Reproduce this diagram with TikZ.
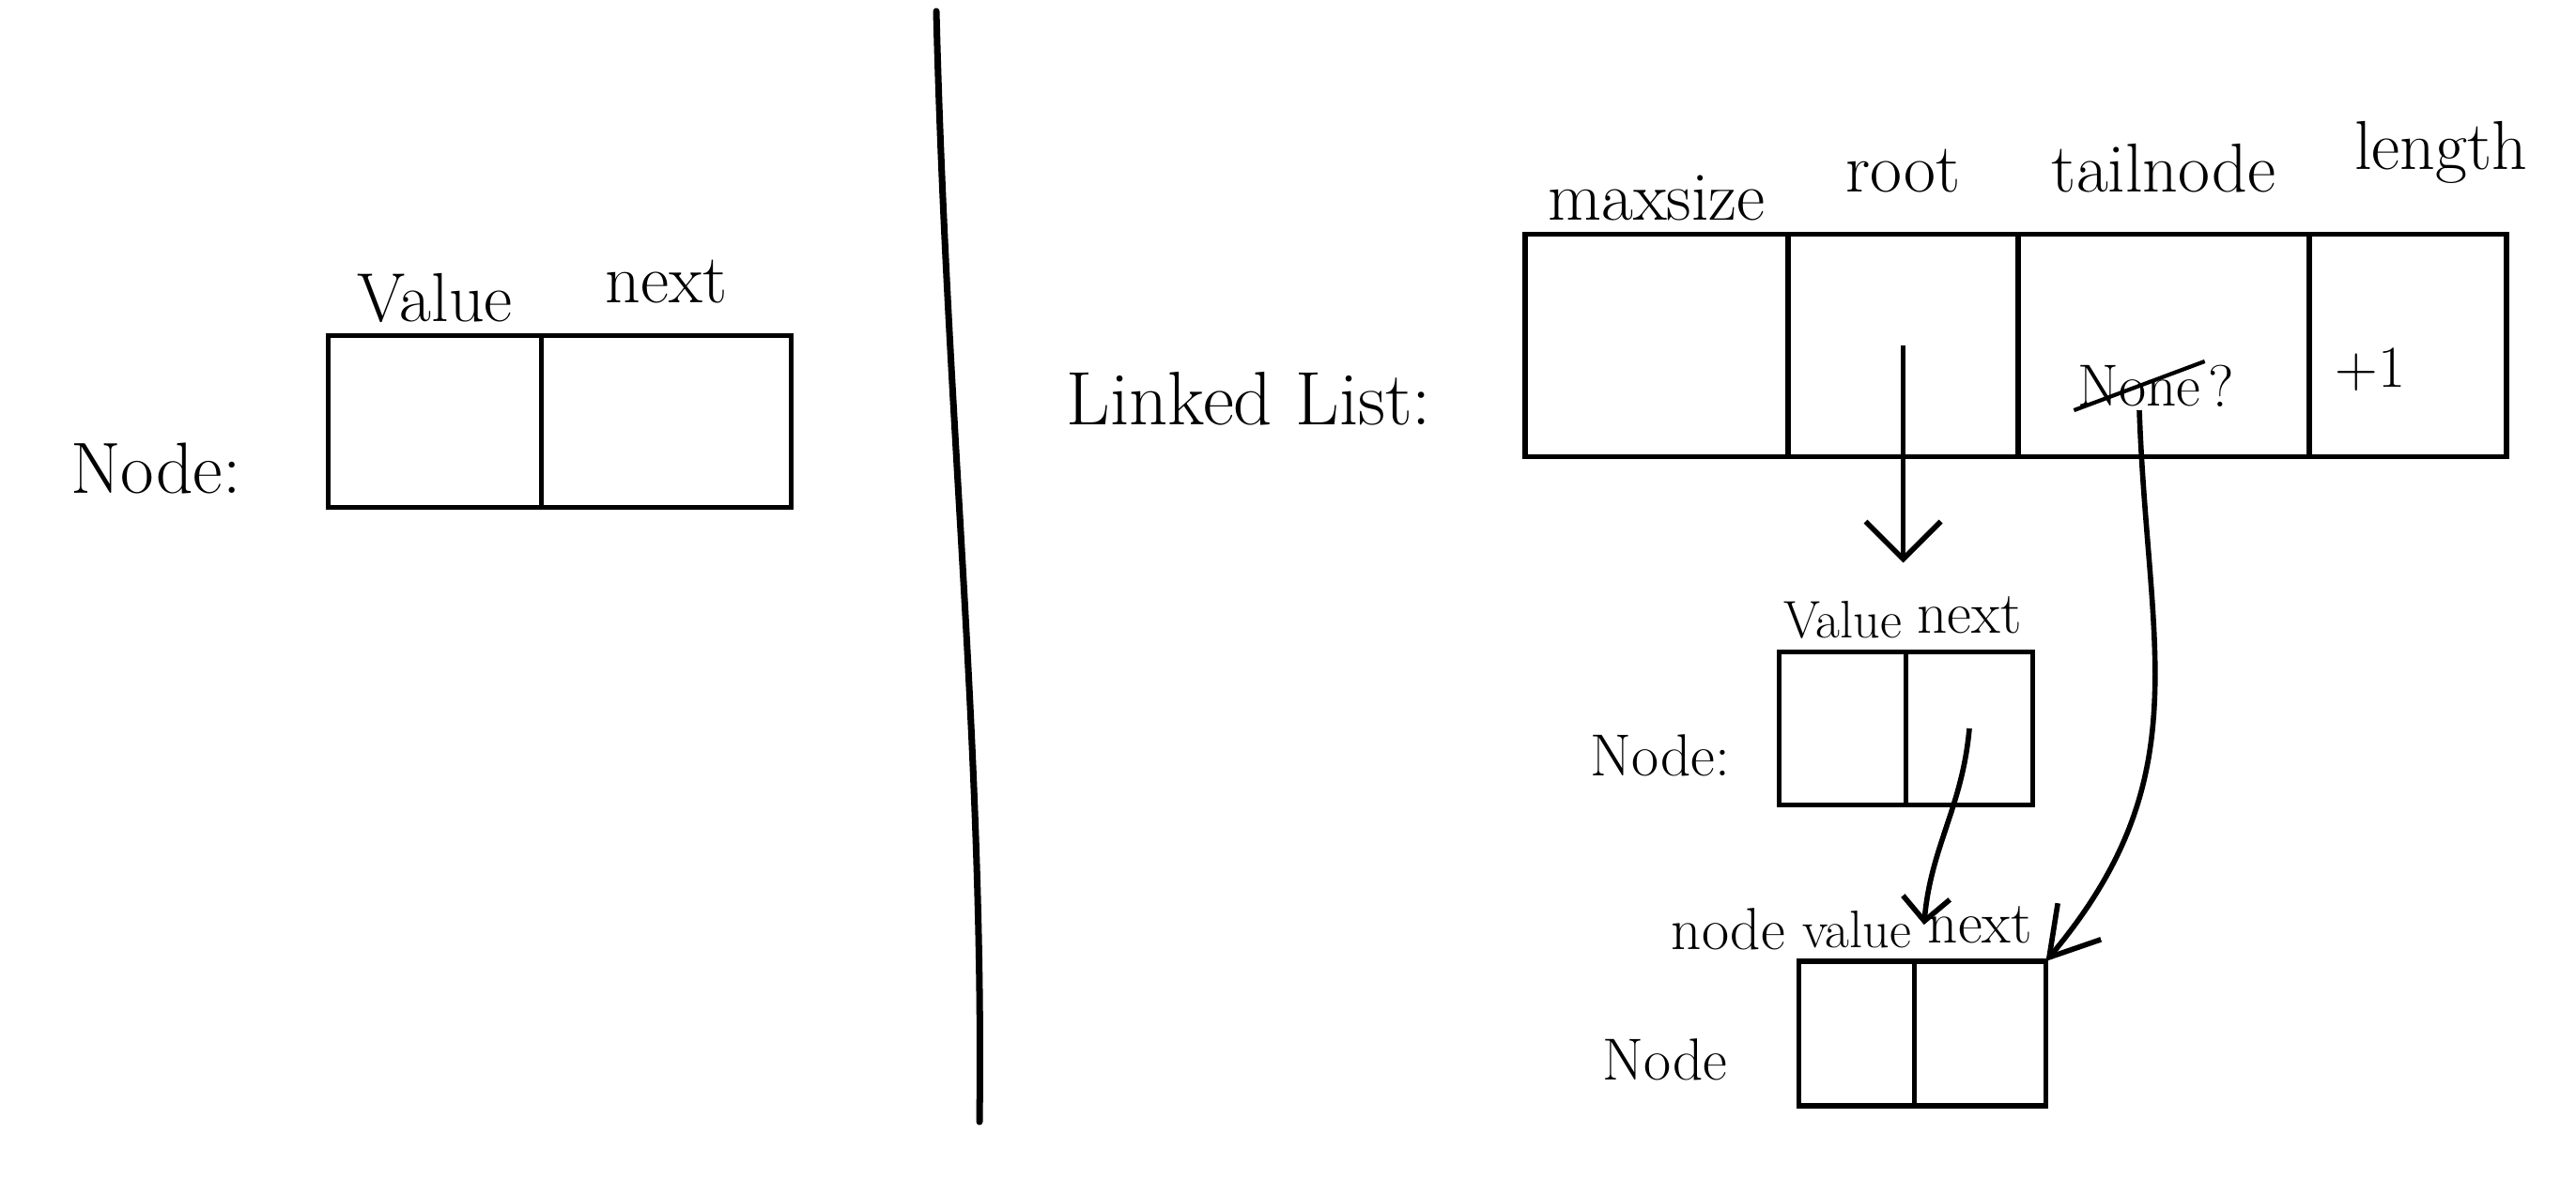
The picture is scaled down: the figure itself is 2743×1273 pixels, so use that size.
\documentclass[tikz,border=0pt]{standalone}
\usetikzlibrary{arrows.meta,positioning}

\tikzset{
  cell/.style={draw, line width=1.6pt, inner sep=0pt, outer sep=0pt},
  bigtxt/.style={font=\fontsize{21}{25}\selectfont, inner sep=1pt},
  midtxt/.style={font=\fontsize{18}{22}\selectfont, inner sep=1pt},
  smalltxt/.style={font=\fontsize{16}{19}\selectfont, inner sep=1pt},
  ptr/.style={line width=1.6pt, -{Straight Barb[length=4mm,width=8mm]}},
}

\begin{document}
\begin{tikzpicture}[x=0.1mm,y=-0.1mm]

\useasboundingbox (0,0) rectangle (2743,1273);

% NODE (LEFT)
\node [cell, minimum width=22.7mm, minimum height=18.3mm] (lval) at (463,449) {};
\node [cell, minimum width=26.6mm, minimum height=18.3mm, right=0pt of lval] (lnext) {};
\node [bigtxt, above=1mm of lval] (lvaltxt) {Value};
\node [bigtxt, above=3mm of lnext] (lnexttxt) {next};
\node [font=\fontsize{22}{26}\selectfont] (lnodetxt) at (166,499) {Node:};

% DIVIDER
\draw [line width=2pt, line cap=round]
	(997,12) .. controls (1008,450) and (1048,800) .. (1043,1195);

% LINKED LIST
\node [cell, minimum width=28mm, minimum height=23.7mm] (llmax) at (1764,368) {};
\node [cell, minimum width=24.5mm, minimum height=23.7mm, right=0pt of llmax] (llroot) {};
\node [cell, minimum width=31mm, minimum height=23.7mm, right=0pt of llroot] (lltail) {};
\node [cell, minimum width=21mm, minimum height=23.7mm, right=0pt of lltail] (lllen) {};
\node [bigtxt, above=1mm of llmax] (llmaxtxt) {maxsize};
\node [bigtxt, above=4mm of llroot] (llroottxt) {root};
\node [bigtxt, above=4mm of lltail] (lltailtxt) {tailnode};
\node [bigtxt, above=5mm of lllen, xshift=10pt] (lllentxt) {length};
\node [font=\fontsize{23}{28}\selectfont] (lltxt) at (1330,425) {Linked List:};

\node [font=\fontsize{18}{21}\selectfont, inner sep=1pt] (none) at (2278,411) {None};
\node [font=\fontsize{18}{21}\selectfont, inner sep=1pt, right=0pt of none] (qmark) {?};
\draw [line width=1.2pt] (none.south west) -- (none.north east);
\node [font=\fontsize{18}{22}\selectfont] (plusone) at (2524,394) {+1};

% NODE (MIDDLE)
\node [cell, minimum width=13.5mm, minimum height=16.3mm] (mval) at (1962,776) {};
\node [cell, minimum width=13.5mm, minimum height=16.3mm, right=0pt of mval] (mnext) {};
\node [smalltxt, above=1mm of mval] (mvaltxt) {Value};
\node [midtxt, above=1.5mm of mnext] (mnexttxt) {next};
\node [midtxt] (mnodetxt) at (1768,805) {Node:};

% NODE (BOTTOM)
\node [cell, minimum width=12.3mm, minimum height=15.4mm] (bval) at (1977,1101) {};
\node [cell, minimum width=14mm, minimum height=15.4mm, right=0pt of bval] (bnext) {};
\node [smalltxt, above=1mm of bval] (bvaltxt) {value};
\node [midtxt, above=1.5mm of bnext] (bnexttxt) {next};
\node [midtxt, left=1mm of bvaltxt] (bnodelbl) {node};
\node [midtxt] (bnodetxt) at (1773,1129) {Node};

% POINTERS
\draw [ptr, shorten >=9.5mm] (llroot.center) -- (llroot.center |- mval.north);
\draw [ptr, -{Straight Barb[length=2.5mm,width=5mm]}]
	(mnext.center) to[out=-95,in=85] (bnexttxt.west);
\draw [ptr, -{Straight Barb[length=5mm,width=6mm]}]
	(none.south) to[out=-88,in=50,looseness=1.1] (bnext.north east);

\end{tikzpicture}
\end{document}
